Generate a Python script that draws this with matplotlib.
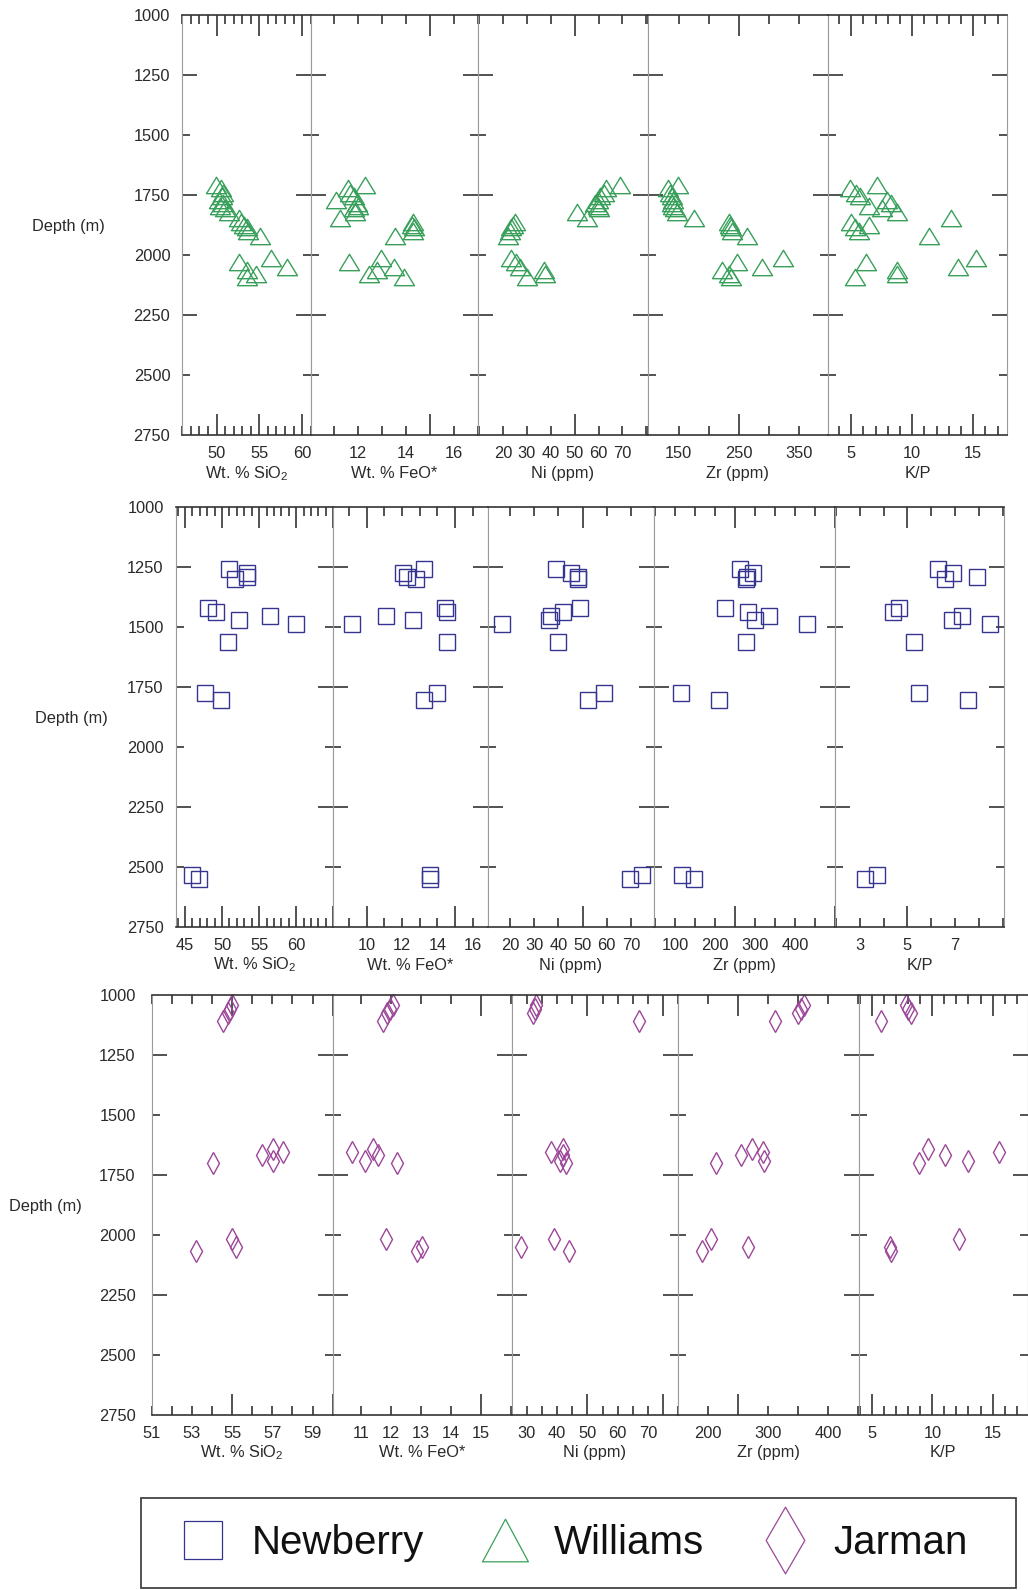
import matplotlib
matplotlib.use( "Agg" )
import matplotlib.pyplot as plt
import matplotlib.transforms as mtrans
from matplotlib.path import Path
from matplotlib.lines import Line2D
from matplotlib.patches import Rectangle
from matplotlib.ticker import MultipleLocator, FixedLocator

plt.rcParams["font.family"] = ["Liberation Sans", "DejaVu Sans"]
plt.rcParams["mathtext.fontset"] = "custom"
plt.rcParams["mathtext.rm"] = "Liberation Sans"
plt.rcParams["mathtext.it"] = "Liberation Sans"

# --- Williams (green triangles) ---
williams_depth = [1710, 1722, 1740, 1755, 1770, 1785, 1795, 1803, 1822, 1845, 1862,
                  1877, 1882, 1900, 1922, 2012, 2030, 2048, 2062, 2078, 2090]
williams_sio2  = [49.9, 50.5, 50.7, 50.6, 50.3, 50.8, 50.4, 51.0, 51.4, 52.6, 52.9,
                  53.2, 53.6, 53.7, 55.1, 56.4, 52.6, 58.2, 53.6, 54.6, 53.5]
williams_feo   = [12.3, 11.6, 11.7, 11.85, 11.1, 11.95, 12.0, 11.85, 11.9, 11.25, 14.3,
                  14.25, 14.35, 14.3, 13.55, 12.95, 11.65, 13.5, 12.8, 12.45, 13.9]
williams_ni    = [69.0, 63.1, 62.1, 60.7, 59.6, 58.6, 59.6, 60.3, 50.9, 55.1, 24.9,
                  24.2, 23.5, 22.8, 22.1, 23.5, 25.6, 27.2, 37.1, 37.8, 30.0]
williams_zr    = [148.8, 133.2, 135.9, 138.7, 141.5, 138.7, 141.5, 144.3, 147.2, 175.2, 234.0,
                  235.7, 236.8, 238.5, 264.8, 324.7, 248.0, 288.3, 222.7, 234.0, 236.8]
williams_kp    = [7.12, 4.92, 5.42, 5.75, 7.95, 8.23, 6.44, 7.54, 8.78, 13.2, 5.0,
                  6.44, 5.33, 5.6, 11.4, 15.2, 6.25, 13.76, 8.78, 8.78, 5.33]

# --- Newberry (blue squares) ---
newberry_depth = [1257, 1276, 1292, 1300, 1422, 1438, 1453, 1470, 1486, 1564, 1775, 1803, 2536, 2550]
newberry_sio2  = [50.95, 53.4, 53.3, 51.7, 48.15, 49.2, 56.4, 52.3, 59.95, 50.85, 47.7, 49.9, 45.9, 46.9]
newberry_feo   = [13.26, 12.04, 12.3, 12.79, 14.43, 14.53, 11.09, 12.64, 9.15, 14.56, 13.96, 13.26, 13.58, 13.58]
newberry_ni    = [39.1, 45.1, 48.2, 48.2, 48.9, 41.9, 36.8, 36.1, 16.6, 39.8, 59.0, 52.1, 74.6, 69.8]
newberry_zr    = [261.8, 295.4, 281.2, 277.0, 226.4, 283.7, 335.9, 300.5, 430.3, 277.0, 115.6, 211.3, 118.8, 148.2]
newberry_kp    = [6.27, 6.9, 7.89, 6.58, 4.65, 4.41, 7.28, 6.86, 8.45, 5.28, 5.47, 7.54, 3.73, 3.24]

# --- Jarman (purple diamonds) ---
jarman_depth = [1042, 1060, 1076, 1110, 1640, 1653, 1667, 1692, 1699, 2015, 2049, 2065]
jarman_sio2  = [54.97, 54.88, 54.77, 54.55, 57.02, 57.55, 56.47, 57.02, 54.05, 54.97, 55.18, 53.18]
jarman_feo   = [12.08, 11.97, 11.86, 11.74, 11.41, 10.69, 11.56, 11.13, 12.19, 11.83, 13.02, 12.86]
jarman_ni    = [33.1, 32.6, 31.9, 66.9, 41.9, 38.0, 42.0, 41.1, 43.0, 38.9, 28.0, 43.9]
jarman_zr    = [359, 355, 349, 312, 273, 291, 255, 294, 213, 206, 266, 190]
jarman_kp    = [7.8, 7.99, 8.21, 5.78, 9.6, 15.53, 11.07, 12.96, 8.91, 12.18, 6.48, 6.53]

# tick labels
depth_labels    = [1000, 1250, 1500, 1750, 2000, 2250, 2500, 2750]
williams_ticks  = [[50, 55, 60], [12, 14, 16], [20, 30, 40, 50, 60, 70], [150, 250, 350], [5, 10, 15]]
newberry_ticks  = [[45, 50, 55, 60], [10, 12, 14, 16], [20, 30, 40, 50, 60, 70], [100, 200, 300, 400], [3, 5, 7]]
jarman_ticks    = [[51, 53, 55, 57, 59], [11, 12, 13, 14, 15], [30, 40, 50, 60, 70], [200, 300, 400], [5, 10, 15]]

x_titles    = ["Wt. % SiO$_2$", "Wt. % FeO*", "Ni (ppm)", "Zr (ppm)", "K/P"]
group_names = ["Newberry", "Williams", "Jarman"]

GREEN  = "#38a05a"
BLUE   = "#35358f"
PURPLE = "#9c4799"
TXT    = "#2a2a2a"
TICK   = "#222222"

TRIANGLE     = Path( [(-1, -0.82), (1, -0.82), (0, 0.82), (-1, -0.82)], closed = True )
TRIANGLE_KEY = Path( [(-1, -0.93), (1, -0.93), (0, 0.93), (-1, -0.93)], closed = True )
DIAMOND_KEY  = Path( [(0, 1), (0.58, 0), (0, -1), (-0.58, 0), (0, 1)], closed = True )

W, H = 1028, 1590
fig = plt.figure( figsize = (W / 100, H / 100), dpi = 100 )


def addRow( top, bottom, edges, xlims, majors, minors, ticks, series, depth,
            marker, ms, color, yPad, tickDrop, titleDrop, depthLabelX ):
    """Draws one row of five depth panels sharing a depth axis."""

    axes = []
    for i in range(5):
        left, right = edges[i], edges[i + 1]
        ax = fig.add_axes( [left / W, 1 - bottom / H, (right - left) / W, (bottom - top) / H] )

        ax.plot( series[i], depth, linestyle = "none", marker = marker, ms = ms,
                 mfc = "none", mec = color, mew = 1.0, clip_on = False )

        ax.set_xlim( *xlims[i] )
        ax.set_ylim( 2750, 1000 )

        ax.xaxis.set_major_locator( MultipleLocator( majors[i] ) )
        ax.xaxis.set_minor_locator( MultipleLocator( minors[i] ) )
        ax.yaxis.set_major_locator( FixedLocator( [1250, 1750, 2250] ) )
        ax.yaxis.set_minor_locator( FixedLocator( [1500, 2000, 2500] ) )

        ax.tick_params( which = "both", direction = "in", top = True, bottom = True,
                        left = True, right = True, labelbottom = False, labelleft = False,
                        color = TICK, width = 1.1 )
        ax.tick_params( axis = "x", which = "major", length = 15 )
        ax.tick_params( axis = "x", which = "minor", length = 6.5 )
        ax.tick_params( axis = "y", which = "major", length = 10.8 )
        ax.tick_params( axis = "y", which = "minor", length = 5.8 )

        for side in ["top", "bottom"]:
            ax.spines[side].set_color( "#333333" )
            ax.spines[side].set_linewidth( 1.2 )
        for side in ["left", "right"]:
            ax.spines[side].set_color( "#9a9a9a" )
            ax.spines[side].set_linewidth( 0.8 )

        # x tick labels sit under the panel, independent of the tick marks
        labTrans = mtrans.offset_copy( ax.get_xaxis_transform(), fig = fig, y = -tickDrop, units = "dots" )
        for v in ticks[i]:
            ax.text( v, 0, str(v), transform = labTrans, ha = "center", va = "baseline",
                     fontsize = 11.8, color = TXT )

        titleTrans = mtrans.offset_copy( ax.transAxes, fig = fig, y = -titleDrop, units = "dots" )
        ax.text( 0.5, 0, x_titles[i], transform = titleTrans, ha = "center", va = "baseline",
                 fontsize = 11.8, color = TXT )

        axes.append( ax )

    first = axes[0]
    yTrans = mtrans.offset_copy( first.get_yaxis_transform(), fig = fig, x = -yPad, units = "dots" )
    for v in depth_labels:
        first.text( 0, v, str(v), transform = yTrans, ha = "right", va = "center_baseline",
                    fontsize = 11.8, color = TXT )

    fig.text( depthLabelX / W, 1 - (top + bottom) / 2 / H, "Depth (m)", ha = "center",
              va = "center_baseline", fontsize = 11.8, color = TXT )

    return axes


# Williams
addRow( 15, 435, [182.3, 310.7, 478.3, 647.5, 828.3, 1006.8],
        [(46, 61), (10.05, 17.0), (9.7, 80.5), (98.4, 399.3), (3.12, 17.76)],
        [5, 5, 50, 250, 5], [1, 1, 10, 50, 1], williams_ticks,
        [williams_sio2, williams_feo, williams_ni, williams_zr, williams_kp], williams_depth,
        TRIANGLE, 14.4, GREEN, 12, 23.3, 43, 68 )

# Newberry
addRow( 507.3, 926.7, [175.7, 333.3, 487.7, 653.9, 835.0, 1004.0],
        [(43.75, 65.0), (8.11, 16.85), (10.8, 79.5), (47.5, 500), (1.97, 9.04)],
        [5, 5, 50, 250, 5], [1, 1, 10, 50, 1], newberry_ticks,
        [newberry_sio2, newberry_feo, newberry_ni, newberry_zr, newberry_kp], newberry_depth,
        "s", 11.7, BLUE, 12, 23.3, 43, 71.5 )

# Jarman
addRow( 995, 1415, [151.7, 332.7, 512.3, 677.5, 858.6, 1027.5],
        [(51, 60), (10.05, 16.05), (25.2, 79.7), (149.7, 450.3), (3.88, 17.9)],
        [5, 5, 25, 250, 5], [1, 1, 5, 50, 1], jarman_ticks,
        [jarman_sio2, jarman_feo, jarman_ni, jarman_zr, jarman_kp], jarman_depth,
        "d", 11.0, PURPLE, 16, 23.3, 42, 45 )

# legend box along the bottom
fig.add_artist( Rectangle( (141 / W, 1 - 1588 / H), 875 / W, 90 / H, transform = fig.transFigure,
                           fill = False, ec = "#444444", lw = 1.3 ) )

handles = [ Line2D( [], [], linestyle = "none", marker = "s", ms = 27.4, mfc = "none", mec = BLUE, mew = 0.9 ),
            Line2D( [], [], linestyle = "none", marker = TRIANGLE_KEY, ms = 33, mfc = "none", mec = GREEN, mew = 0.9 ),
            Line2D( [], [], linestyle = "none", marker = DIAMOND_KEY, ms = 48, mfc = "none", mec = PURPLE, mew = 0.9 ) ]

fig.legend( handles, group_names, ncol = 3, loc = "center left",
            bbox_to_anchor = (179 / W, 1 - 1543 / H), frameon = False, fontsize = 29,
            handlelength = 1.2, handletextpad = 0.6, columnspacing = 1.42,
            borderpad = 0, borderaxespad = 0, labelcolor = "#111111" )

fig.savefig( "out.png", dpi = 100 )
